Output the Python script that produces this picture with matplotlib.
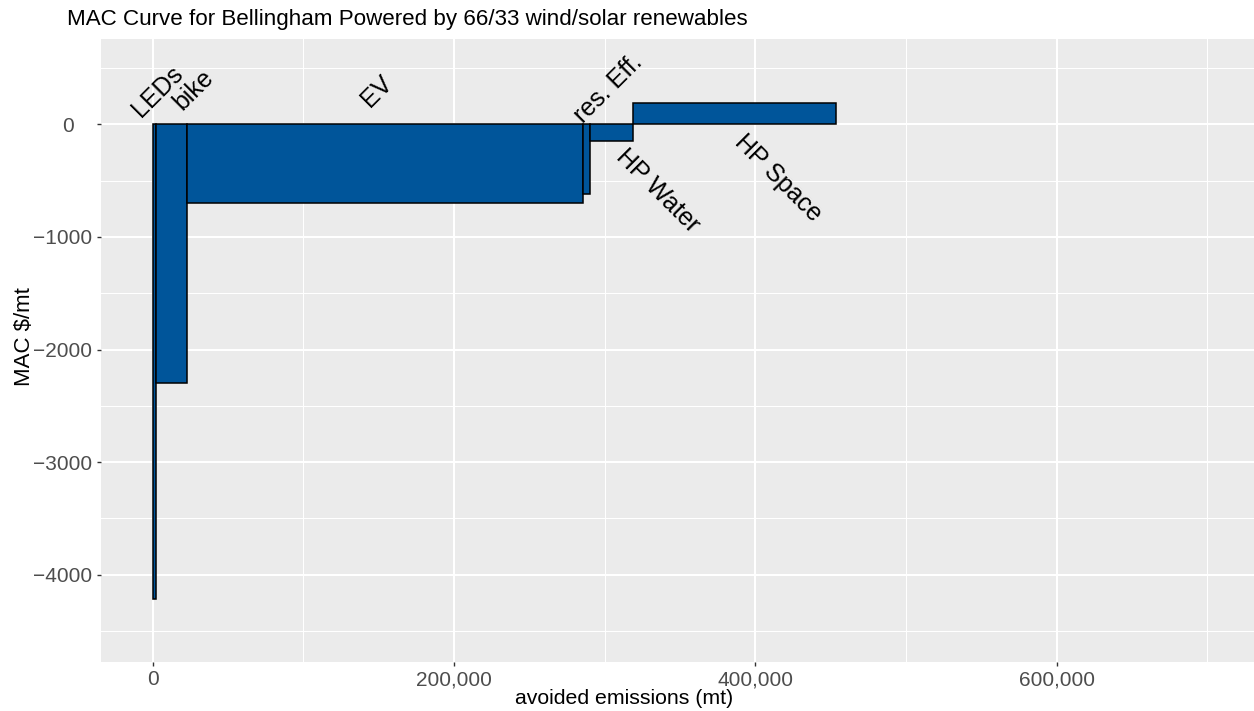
import numpy as np
import matplotlib
matplotlib.use("Agg")
import matplotlib.pyplot as plt
from matplotlib.ticker import FixedLocator, FuncFormatter

# ---- data ----
measures = ["LEDs", "bike", "EV", "res. Eff.", "HP Water", "HP Space"]
avoided = [2500, 20070, 263260, 4450, 28740, 134550]   # mt avoided (bar widths)
mac = [-4220, -2298, -700, -617, -149, 193]             # $/mt (bar heights)

x_major = [0, 200000, 400000, 600000]
x_minor = [100000, 300000, 500000, 700000]
y_major = [0, -1000, -2000, -3000, -4000]
y_minor = [500, -500, -1500, -2500, -3500, -4500]

plt.rcParams["font.family"] = ["Liberation Sans", "DejaVu Sans"]

fig = plt.figure(figsize=(12.54, 7.11), dpi=100)
ax = fig.add_axes([100.7 / 1254, 1 - 661.7 / 711, 1 - 100.7 / 1254, (661.7 - 39) / 711])
ax.set_facecolor("#EBEBEB")
for s in ax.spines.values():
    s.set_visible(False)

ax.set_xlim(-34520, 731000)
ax.set_ylim(-4773, 758)

ax.xaxis.set_major_locator(FixedLocator(x_major))
ax.xaxis.set_minor_locator(FixedLocator(x_minor))
ax.yaxis.set_major_locator(FixedLocator(y_major))
ax.yaxis.set_minor_locator(FixedLocator(y_minor))
ax.xaxis.set_major_formatter(FuncFormatter(lambda v, p: f"{int(v):,}"))
ax.yaxis.set_major_formatter(FuncFormatter(lambda v, p: "0   " if v == 0 else f"\u2212{abs(int(v))}"))

ax.grid(which="major", color="white", linewidth=1.5)
ax.grid(which="minor", color="white", linewidth=0.75)
ax.set_axisbelow(True)
ax.tick_params(which="major", length=3.2, width=1.0, color="#333333",
               labelsize=15, labelcolor="#4D4D4D", pad=3)
ax.tick_params(which="minor", length=0)

left = np.concatenate([[0], np.cumsum(avoided)[:-1]])
ax.bar(left, mac, width=avoided, align="edge", color="#00559A",
       edgecolor="black", linewidth=1.1, zorder=2)

# labels: (dx, dy) offsets in pixels from bar midpoint at y=0, rotation
label_style = {
    "LEDs": (3, 33, 45),
    "bike": (22, 34, 45),
    "EV": (-8, 33, 45),
    "res. Eff.": (22, 36, 45),
    "HP Water": (46, -66, -45),
    "HP Space": (43, -54, -45),
}
for name, l, w in zip(measures, left, avoided):
    dx, dy, rot = label_style[name]
    ax.annotate(name, xy=(l + w / 2, 0), xytext=(dx, dy), textcoords="offset pixels",
                rotation=rot, ha="center", va="center", fontsize=18, color="black",
                zorder=3)

fig.text(67 / 1254, 1 - 20 / 711, "MAC Curve for Bellingham Powered by 66/33 wind/solar renewables",
         ha="left", va="center", fontsize=16.1, color="black")
fig.text(624 / 1254, 1 - 698 / 711, "avoided emissions (mt)", ha="center", va="center",
         fontsize=15.3, color="black")
fig.text(25 / 1254, 1 - 337 / 711, "MAC $/mt", ha="center", va="center", rotation=90,
         fontsize=16, color="black")

fig.savefig("out.png", dpi=100)
